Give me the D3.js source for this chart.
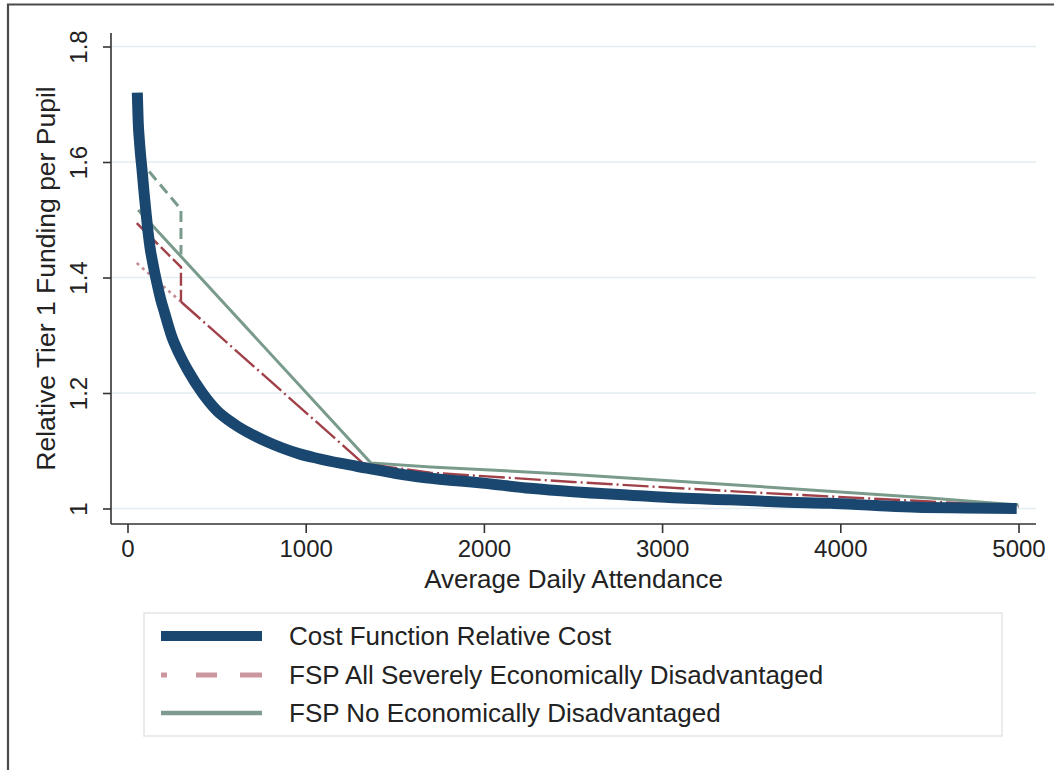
<!DOCTYPE html>
<html>
<head>
<meta charset="utf-8">
<script src="https://cdn.jsdelivr.net/npm/d3@7"></script>
<style>
  html, body { margin: 0; padding: 0; background: #ffffff; }
  svg { display: block; font-family: "Liberation Sans", Arial, sans-serif; }
</style>
</head>
<body>
<svg id="chart" width="1054" height="770"></svg>
<script>
// Average daily attendance (ADA) vs relative tier 1 funding per pupil

const xTicks = [0, 1000, 2000, 3000, 4000, 5000];
const yTicks = [1, 1.2, 1.4, 1.6, 1.8];
const yTickLabels = ["1", "1.2", "1.4", "1.6", "1.8"];

// Cost function relative cost: [ADA, relative cost]
const costFunction = [
  [55, 1.72], [60, 1.67], [66, 1.64], [74, 1.61], [82, 1.585], [92, 1.55],
  [104, 1.512], [115, 1.48], [126, 1.453], [145, 1.42], [164, 1.392],
  [185, 1.364], [210, 1.337], [248, 1.298], [290, 1.268], [341, 1.238],
  [420, 1.200], [500, 1.170], [600, 1.146], [687, 1.130], [780, 1.116],
  [874, 1.104], [960, 1.095], [1062, 1.087], [1200, 1.078], [1342, 1.070],
  [1500, 1.061], [1650, 1.054], [1810, 1.049], [1960, 1.045], [2259, 1.035],
  [2500, 1.029], [2820, 1.023], [3100, 1.018], [3381, 1.015], [3700, 1.011],
  [3942, 1.009], [4200, 1.005], [4429, 1.002], [4700, 1.001], [4990, 1.0]
];

// FSP, all students severely economically disadvantaged
const fspSevere = [
  [300, 1.358], [1323, 1.078], [1700, 1.062], [2500, 1.046],
  [3500, 1.028], [4500, 1.012], [5000, 1.003]
];
const fspSevereSmall = [[52, 1.425], [300, 1.358]];
const fspSevereSmallAdj = [[52, 1.494], [300, 1.418], [300, 1.358]];

// FSP, no economically disadvantaged students
const fspNone = [
  [60, 1.517], [1365, 1.079], [1700, 1.072], [2500, 1.059],
  [3500, 1.039], [4500, 1.018], [5000, 1.006]
];
const fspNoneSmallAdj = [[60, 1.606], [300, 1.518], [300, 1.44]];

const legendLabels = [
  "Cost Function Relative Cost",
  "FSP All Severely Economically Disadvantaged",
  "FSP No Economically Disadvantaged"
];

const navy = "#1a476f";
const maroon = "#a0414a";
const sage = "#7a9b8b";

const svg = d3.select("#chart");

const x = d3.scaleLinear().domain([0, 5000]).range([127.5, 1018.5]);
const y = d3.scaleLinear().domain([1, 1.8]).range([508.5, 46.5]);

const plotLeft = 111, plotRight = 1036, plotTop = 33, plotBottom = 524;

// outer frame (top and left edges)
svg.append("path")
  .attr("d", `M8,770 L8,4.5 L1054,4.5`)
  .attr("fill", "none").attr("stroke", "#4a4a4a").attr("stroke-width", 2.2);

// gridlines
svg.append("g").selectAll("line").data(yTicks).join("line")
  .attr("x1", plotLeft + 1).attr("x2", plotRight)
  .attr("y1", d => y(d)).attr("y2", d => y(d))
  .attr("stroke", "#e3edf2").attr("stroke-width", 1.6);

// y axis
const yAxis = d3.axisLeft(y).tickValues(yTicks)
  .tickFormat((d, i) => yTickLabels[i]).tickSize(8).tickSizeOuter(0);
const gy = svg.append("g").attr("transform", `translate(${plotLeft},0)`).call(yAxis);
gy.select(".domain").remove();
gy.append("line").attr("x1", 0).attr("x2", 0).attr("y1", plotTop).attr("y2", plotBottom)
  .attr("stroke", "#333").attr("stroke-width", 1.6);
gy.selectAll(".tick line").attr("stroke", "#333").attr("stroke-width", 1.6);
gy.selectAll(".tick text")
  .attr("font-size", 24).attr("fill", "#222")
  .attr("font-family", "Liberation Sans, Arial, sans-serif")
  .attr("text-anchor", "middle")
  .attr("transform", "rotate(-90)")
  .attr("x", 0).attr("y", -24).attr("dy", 0);

// x axis
const xAxis = d3.axisBottom(x).tickValues(xTicks).tickFormat(d3.format("d"))
  .tickSize(9).tickSizeOuter(0);
const gx = svg.append("g").attr("transform", `translate(0,${plotBottom})`).call(xAxis);
gx.select(".domain").remove();
gx.append("line").attr("x1", plotLeft).attr("x2", plotRight).attr("y1", 0).attr("y2", 0)
  .attr("stroke", "#333").attr("stroke-width", 1.6);
gx.selectAll(".tick line").attr("stroke", "#333").attr("stroke-width", 1.6);
gx.selectAll(".tick text")
  .attr("font-size", 24).attr("fill", "#222")
  .attr("font-family", "Liberation Sans, Arial, sans-serif")
  .attr("y", 33).attr("dy", 0);

// axis titles
svg.append("text")
  .attr("x", (plotLeft + plotRight) / 2).attr("y", 588)
  .attr("text-anchor", "middle").attr("font-size", 26).attr("fill", "#222")
  .text("Average Daily Attendance");
svg.append("text")
  .attr("transform", `translate(55,${(plotTop + plotBottom) / 2}) rotate(-90)`)
  .attr("text-anchor", "middle").attr("font-size", 26.5).attr("fill", "#222")
  .text("Relative Tier 1 Funding per Pupil");

const line = d3.line().x(d => x(d[0])).y(d => y(d[1]));
const smoothLine = d3.line().curve(d3.curveMonotoneX).x(d => x(d[0])).y(d => y(d[1]));

// FSP, no economically disadvantaged
svg.append("path").datum(fspNone).attr("d", line)
  .attr("fill", "none").attr("stroke", sage).attr("stroke-width", 3);
svg.append("path").datum(fspNoneSmallAdj).attr("d", line)
  .attr("fill", "none").attr("stroke", sage).attr("stroke-width", 3)
  .attr("stroke-dasharray", "11,6");

// FSP, all severely economically disadvantaged
svg.append("path").datum(fspSevere).attr("d", line)
  .attr("fill", "none").attr("stroke", maroon).attr("stroke-width", 2.4)
  .attr("stroke-dasharray", "26,4,2,4");
svg.append("path").datum(fspSevereSmall).attr("d", line)
  .attr("fill", "none").attr("stroke", "#c58d93").attr("stroke-width", 2.6)
  .attr("stroke-dasharray", "3,4");
svg.append("path").datum(fspSevereSmallAdj).attr("d", line)
  .attr("fill", "none").attr("stroke", maroon).attr("stroke-width", 2.4)
  .attr("stroke-dasharray", "13,4");

// cost function relative cost (thick)
svg.append("path").datum(costFunction).attr("d", smoothLine)
  .attr("fill", "none").attr("stroke", navy).attr("stroke-width", 11)
  .attr("stroke-linejoin", "round").attr("stroke-linecap", "butt");

// legend
const lg = svg.append("g");
lg.append("rect").attr("x", 144).attr("y", 613).attr("width", 858).attr("height", 123)
  .attr("fill", "#fff").attr("stroke", "#e4e6e8").attr("stroke-width", 1.6);
const rows = [636, 675, 713];
const sym = [
  { stroke: navy, width: 10, dash: null },
  { stroke: "#c9979d", width: 5, dash: "6,29,21,23,22" },
  { stroke: "#7f9a8e", width: 4.5, dash: null }
];
legendLabels.forEach((lab, i) => {
  const s = lg.append("line").attr("x1", 161).attr("x2", 262)
    .attr("y1", rows[i]).attr("y2", rows[i])
    .attr("stroke", sym[i].stroke).attr("stroke-width", sym[i].width);
  if (sym[i].dash) s.attr("stroke-dasharray", sym[i].dash);
  lg.append("text").attr("x", 289).attr("y", rows[i] + 9)
    .attr("font-size", 26).attr("fill", "#222").text(lab);
});
</script>
</body>
</html>
